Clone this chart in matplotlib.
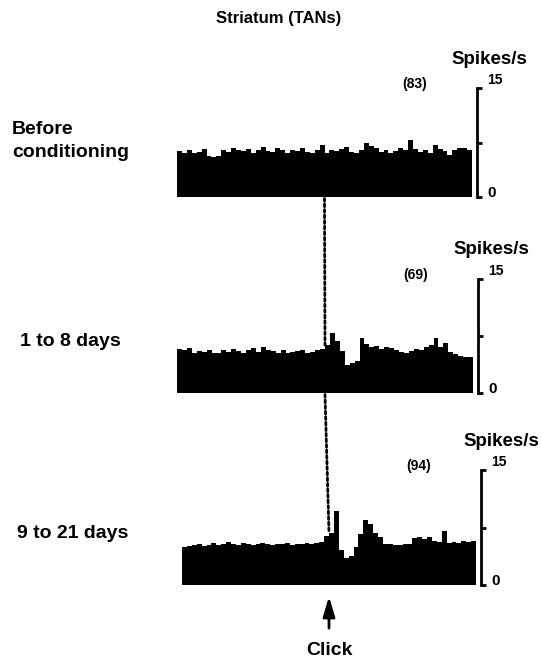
import numpy as np
import matplotlib
matplotlib.use('Agg')
import matplotlib.pyplot as plt
from matplotlib.patches import ConnectionPatch

plt.rcParams['font.family'] = ['Liberation Sans', 'DejaVu Sans']
plt.rcParams['font.weight'] = 'bold'

# time axis (s), click at 0
t_start, t_end = -1.0, 1.0
click_t = 0.0

conditions = ['Before\nconditioning', '1 to 8 days', '9 to 21 days']
n_cells = ['(83)', '(69)', '(94)']
y_unit = 'Spikes/s'
y_max = 15

# firing rate (spikes/s) per bin
before = [6.3, 6.1, 6.4, 6.0, 6.2, 6.6, 5.6, 5.5, 5.7, 6.5, 6.2, 6.8, 6.4, 6.3, 6.6,
          6.1, 6.5, 6.9, 6.3, 6.2, 6.7, 6.4, 6.0, 6.5, 6.3, 6.8, 6.2, 6.0, 6.4, 7.2,
          6.1, 6.5, 6.3, 6.6, 6.9, 6.2, 6.0, 6.4, 7.5, 7.0, 6.7, 6.2, 6.4, 6.1, 6.3,
          6.8, 6.5, 7.8, 6.6, 6.2, 6.4, 6.0, 7.1, 6.6, 6.3, 5.8, 6.5, 6.7, 6.8, 6.5]
days_1_8 = [5.8, 5.6, 5.9, 5.3, 5.5, 5.4, 5.7, 5.2, 5.3, 5.6, 5.4, 5.8, 5.5, 5.3, 5.6,
            5.9, 5.4, 6.1, 5.7, 5.5, 5.3, 5.6, 5.2, 5.4, 5.5, 5.7, 5.3, 5.4, 5.6, 5.8,
            6.3, 7.9, 6.8, 5.5, 3.7, 3.9, 4.2, 7.2, 6.4, 6.0, 6.2, 5.8, 6.1, 5.9, 5.6,
            5.4, 5.3, 5.5, 5.8, 5.6, 6.0, 6.3, 7.2, 6.0, 6.6, 5.4, 5.1, 4.9, 4.8, 4.8]
days_9_21 = [5.0, 5.1, 5.2, 5.3, 5.1, 5.2, 5.5, 5.2, 5.4, 5.6, 5.3, 5.2, 5.5, 5.3, 5.2,
             5.4, 5.5, 5.3, 5.2, 5.4, 5.3, 5.5, 5.2, 5.4, 5.3, 5.5, 5.4, 5.5, 5.6, 6.4,
             6.8, 9.6, 4.6, 3.5, 3.8, 4.9, 6.6, 8.5, 7.9, 6.8, 6.3, 5.4, 5.3, 5.2, 5.2,
             5.3, 5.4, 6.1, 6.3, 6.0, 6.2, 5.7, 5.6, 7.0, 5.5, 5.6, 5.5, 5.7, 5.6, 5.8]
series = [before, days_1_8, days_9_21]

W, H = 541, 661


def px(x, y):
    # pixel (from top-left) -> figure fraction
    return x / W, 1 - y / H


fig = plt.figure(figsize=(W / 100, H / 100), dpi=100)

# axes boxes in pixels: left, right, bottom (0), top (15)
boxes = [(177, 472, 197, 88), (177, 473, 393, 279), (182, 476, 585, 470)]
unit_x = [489, 491, 501]
label_pos = [(12, 141), (20, 341), (17, 534)]

axs = []
for (l, r, b, t) in boxes:
    x0, y0 = px(l, b)
    x1, y1 = px(r, t)
    axs.append(fig.add_axes([x0, y0, x1 - x0, y1 - y0]))

for i, ax in enumerate(axs):
    l, r, b, t = boxes[i]
    w, h = r - l, b - t
    vals = np.array(series[i])
    edges = np.linspace(t_start, t_end, len(vals) + 1)
    ax.stairs(vals, edges, fill=True, color='black', linewidth=0)
    ax.set_xlim(t_start, t_end)
    ax.set_ylim(0, y_max)
    for s in ['top', 'left', 'bottom']:
        ax.spines[s].set_visible(False)
    ax.spines['right'].set_position(('outward', 3.5))
    ax.spines['right'].set_linewidth(2)
    ax.yaxis.tick_right()
    ax.set_yticks([0, y_max / 2, y_max])
    ax.tick_params(axis='y', direction='out', length=3.5, width=2, labelright=False)
    ax.set_xticks([])
    ax.patch.set_alpha(0)

    ax.text(1 + 15 / w, 1 + 8 / h, str(y_max), transform=ax.transAxes, fontsize=10,
            ha='left', va='center')
    ax.text(1 + 15 / w, 4 / h, '0', transform=ax.transAxes, fontsize=11,
            ha='left', va='center')
    ax.text(1 - 57 / w, 1 + 4 / h, n_cells[i], transform=ax.transAxes, fontsize=10,
            ha='center', va='center')
    ax.text((unit_x[i] - l) / w, 1 + 29 / h, y_unit, transform=ax.transAxes,
            fontsize=13.5, ha='center', va='center')

    fig.text(*px(*label_pos[i]), conditions[i], fontsize=14, ha='left', va='center',
             linespacing=1.45)

fig.text(*px(279, 19), 'Striatum (TANs)', fontsize=12, ha='center', va='center')

# dotted click line between panels
for k in range(2):
    nxt = np.array(series[k + 1])
    idx = int((click_t - t_start) / (t_end - t_start) * len(nxt))
    con = ConnectionPatch(xyA=(click_t, -0.2), coordsA=axs[k].transData,
                          xyB=(click_t, nxt[idx]), coordsB=axs[k + 1].transData,
                          linestyle=(0, (1, 1.0)), linewidth=2, color='black')
    fig.add_artist(con)

axs[2].annotate('Click', xy=(click_t, -0.1), xycoords=('data', 'axes fraction'),
                xytext=(click_t, -0.57), textcoords=('data', 'axes fraction'),
                fontsize=14, ha='center', va='center',
                arrowprops=dict(arrowstyle='-|>,head_length=1.0,head_width=0.3',
                                mutation_scale=12, color='black', linewidth=2,
                                shrinkA=8, shrinkB=0))

fig.savefig('out.png', dpi=100)
